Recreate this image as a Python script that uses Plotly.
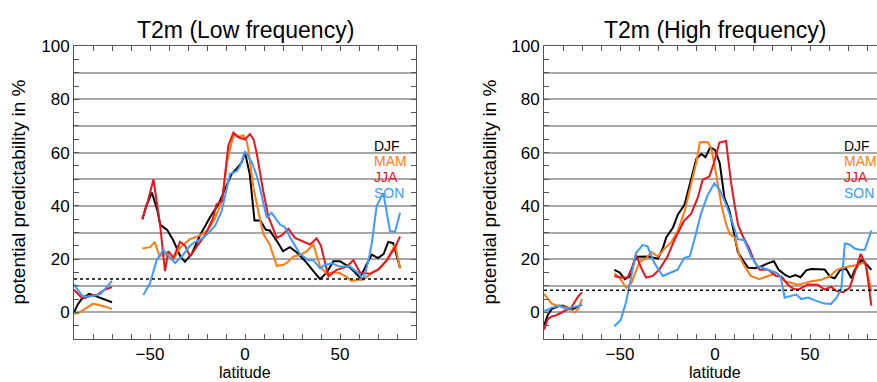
import plotly.graph_objects as go

# ---------------------------------------------------------------- data
seasons = ["DJF", "MAM", "JJA", "SON"]
season_colors = ["#000000", "#ff7a12", "#e8141e", "#3d9bff"]

panel_titles = ["T2m (Low frequency)", "T2m (High frequency)"]
noise_level = [12.5, 8.3]          # dotted significance level per panel

# Antarctic segment (shared latitudes)
ant_lat = [-90, -88, -86, -84, -82, -80, -78, -76, -74, -72, -70]

low_djf_ant = [0, 3, 5, 6, 7, 6.5, 6, 5.5, 5, 4.5, 3.8]
low_mam_ant = [-0.5, -0.3, 0.5, 1.5, 2.5, 3.3, 3, 2.7, 2.2, 1.8, 1.3]
low_jja_ant = [8.5, 7, 5.5, 5.5, 6, 6.5, 6.5, 7.5, 8.5, 9, 9.5]
low_son_ant = [10.5, 8.5, 6.5, 6, 6, 6.2, 6.5, 7, 8.5, 10, 11.8]

high_djf_ant = [-5, -1, 1.2, 2, 2.5, 2.5, 2, 1.3, 1.5, 2.3, 3]
high_mam_ant = [7, 5.2, 3.3, 2.8, 2.5, 2.3, 1.8, 1, 0, 1.2, 5]
high_jja_ant = [-6.5, -2.5, -1.5, -1.2, -0.5, 0.3, 1, 1.5, 4, 6, 7.5]
high_son_ant = [0.6, 1, 1.8, 2.2, 2.5, 1.8, 1.2, 1.8, 2, 2.3, 3]

# Low frequency, main segment
low_djf_lat = [-54, -52, -49, -46, -44.7, -41, -37.7, -34, -31.6, -28, -24, -18.4, -14, -9.6, -7,
               -4.4, -2, 0, 2.5, 5, 8, 11, 13, 17.5, 20, 23.6, 27, 30, 32.5, 36, 39.5, 43, 46.5,
               50, 53, 55.3, 58, 60.5, 64, 66.7, 70, 73, 75.4, 78, 81.6]
low_djf = [35, 40, 45, 38, 33, 31, 27, 21, 19, 22, 28.5, 35.7, 40.6, 48, 52,
           54, 56, 60, 52, 34.5, 34.5, 31, 30.8, 26, 23, 24.5, 22.7, 20.5, 18.6, 15.5, 12.5, 14.9, 19.2,
           19.2, 18, 16.8, 15, 13, 18, 21.7, 20.4, 22, 26.5, 26, 16.8]

low_mam_lat = [-54, -50, -47.5, -45, -42, -38, -34, -29, -25, -20, -16, -12, -9.6, -7, -5.5,
               -3, -1, 1, 2, 4.4, 7, 9.6, 13, 16.7, 20, 22, 25.5, 29, 32.5, 36, 39.5, 43, 46.5,
               50, 53, 56, 59.6, 62.3, 67, 71, 74.6, 79, 81.6]
low_mam = [24, 24.5, 26.5, 21, 22, 19.6, 24.5, 27.5, 28.5, 30.5, 35, 42, 56, 64, 67,
           66, 66.5, 64, 60, 47, 38, 29.5, 25.5, 17.5, 17.8, 18.6, 21, 21.5, 23, 25.5, 17.2, 14.5, 15.2,
           14.7, 13.5, 11.8, 12.3, 12.3, 15, 16.5, 19.6, 25.5, 16.5]

low_jja_lat = [-54, -51, -48.2, -46, -44.7, -42.1, -40.4, -37.7, -34.2, -31.5, -28.9, -25.4, -21,
               -16.7, -15, -12, -8.8, -6.1, -4, -2.6, 0, 2.6, 4.5, 6.1, 9.6, 12.3, 16.7, 19.5, 22.8,
               26.3, 30.7, 34.2, 37.7, 40, 42, 43.9, 48.2, 53.5, 57, 60.5, 65.8, 70, 74.6, 79, 81.6]
low_jja = [35, 42, 50, 40, 33, 15.5, 23, 20.5, 26.5, 25, 21, 24.7, 29,
           35.7, 40.6, 42, 62.6, 67.5, 66, 65.5, 65, 67, 65, 60, 45.5, 36, 28, 29, 31.4,
           28, 26.5, 25.5, 27.8, 25, 19, 13.5, 16, 17.2, 19.6, 15, 14.5, 16, 19.5, 24.5, 28.5]

low_son_lat = [-53.5, -50, -46.5, -43, -40.5, -36.8, -33.3, -29, -27.2, -22, -18.4, -15.8, -12.3,
               -7.9, -4.4, -2.6, 0, 3.5, 6.1, 7.9, 11.4, 14, 15.8, 18.4, 21, 23.7, 28.9, 33.3, 36,
               39.5, 42, 45.6, 50, 55.3, 59.6, 62.3, 65, 66.7, 69.3, 72.8, 76.3, 79, 81.6]
low_son = [6.5, 11, 19.6, 23.5, 21.5, 18.5, 21, 25, 26, 28, 30.5, 32.5, 38,
           52, 53, 55, 60.5, 56.4, 51.5, 46.6, 35.6, 37.4, 35.6, 33, 32, 28.2, 22, 19.6, 19.6,
           16.5, 17.8, 18.4, 17.2, 17.2, 14.7, 12.3, 19.6, 25.8, 40, 44.8, 30.5, 30.3, 37.4]

# High frequency, main segment
high_djf_lat = [-53, -50.2, -47.5, -45, -42.3, -40.5, -35, -30, -27.5, -25.6, -22.1, -19.5, -16,
                -12.5, -9.8, -7.2, -5, -2.5, 0, 2.5, 5, 7.7, 10.4, 12, 14.7, 17.4, 20.9, 24.4,
                27.7, 31, 33.5, 36.7, 39.3, 42.3, 45, 48, 50.7, 54.2, 57.7, 60.7, 63, 66, 69.1,
                71.8, 73.5, 77, 79.6, 82.3]
high_djf = [16, 15, 12.5, 13.5, 19.6, 20.9, 21, 20.2, 24, 28.2, 31.9, 36.8, 40.5,
            50.3, 57.7, 59.5, 58.3, 62, 61, 56, 43, 38, 28.2, 22.7, 19.6, 16.8, 16.6, 17.3,
            18.4, 19.2, 16, 14.2, 13.2, 14, 13.2, 15.8, 16.3, 16.1, 16.1, 13.3, 12.8, 16, 16.3,
            12.8, 15.8, 19.6, 18.2, 16]

high_mam_lat = [-53, -50.2, -46.7, -44, -41.4, -39.6, -36, -33.5, -30, -26.5, -23, -19.5, -16,
                -12.5, -9.8, -8, -5.5, -3.7, -1.9, 0.7, 3.3, 5.5, 7.7, 10.4, 13, 15.6, 18.9, 23.3,
                27.7, 32.5, 36.7, 40.2, 43.7, 47.2, 50.7, 56, 60.4, 64, 67.4, 71.8, 75.3, 79, 82.3]
high_mam = [14.7, 12.9, 9.2, 11, 16, 19, 20.5, 22.7, 20.9, 24, 26.4, 30.7, 38,
            47.9, 56.4, 63.8, 64, 63.8, 61.3, 51.5, 40.5, 34, 29.4, 28.2, 20.9, 17.2, 13.7, 12.5,
            13.5, 14.8, 11.7, 11, 10.4, 11, 11.7, 12.3, 13.5, 16, 16.8, 17.4, 17.8, 19, 8]

high_jja_lat = [-53, -49.6, -46, -43.5, -41.6, -39, -36.3, -32.8, -29.3, -25, -21.4, -16.2, -12.6,
                -9.1, -6.5, -3, -0.4, 2.3, 5.8, 8.4, 10.4, 12.1, 14.5, 18, 20.7, 23.3, 27.9, 32.1,
                34.9, 38.4, 41.5, 44.6, 48.8, 54, 57.7, 61.2, 63.9, 67.4, 70.9, 73.5, 76.7, 79.6, 82.3]
high_jja = [13.7, 13.1, 13.1, 17, 21.6, 17, 13.1, 13.7, 16.1, 21, 27.1, 34.5, 37,
            43, 49.8, 51, 56.5, 63.8, 64.4, 49, 40, 33, 28.8, 24, 19.2, 16.1, 16, 13.7,
            13.5, 10.4, 8.7, 8.8, 10.5, 10.4, 8.6, 9.6, 8, 7.6, 9.2, 14.7, 22, 17.2, 2.5]

high_son_lat = [-53, -49.6, -46.8, -44.2, -41.6, -38.1, -35.5, -32, -27.5, -23.2, -19.7, -16.2,
                -13.3, -10.9, -7.4, -3.9, -0.3, 2.5, 5.8, 8.6, 10.4, 12, 15.4, 19, 22.4, 27.7, 32.1,
                34.5, 36.7, 40.5, 42.8, 45.4, 49, 53, 57.5, 61, 64, 66.5, 68.3, 70.9, 73.5, 76,
                78.8, 82.3]
high_son = [-5.2, -2.8, 3.9, 13.7, 22.3, 25.3, 24.8, 18.6, 13.7, 15, 16, 20.5,
            21, 27.1, 37, 44, 48.5, 46, 40.6, 35, 31, 27.5, 27.1, 21, 17.4, 16.1, 14.9,
            13.5, 5.5, 6.3, 6.7, 5, 5.6, 4.4, 3.3, 3.2, 5.5, 9, 25.9, 25.5, 24, 23.5,
            23.5, 30.7]

panels = [
    {
        "ant": [low_djf_ant, low_mam_ant, low_jja_ant, low_son_ant],
        "main": [(low_djf_lat, low_djf), (low_mam_lat, low_mam),
                 (low_jja_lat, low_jja), (low_son_lat, low_son)],
    },
    {
        "ant": [high_djf_ant, high_mam_ant, high_jja_ant, high_son_ant],
        "main": [(high_djf_lat, high_djf), (high_mam_lat, high_mam),
                 (high_jja_lat, high_jja), (high_son_lat, high_son)],
    },
]

# ---------------------------------------------------------------- figure
W, H = 877, 382
FONT = "Liberation Sans, Arial, Helvetica, sans-serif"

fig = go.Figure()

for p, panel in enumerate(panels):
    xa = "x" if p == 0 else "x2"
    ya = "y" if p == 0 else "y2"
    for s in range(4):
        fig.add_trace(go.Scatter(x=ant_lat, y=panel["ant"][s], mode="lines",
                                 line=dict(color=season_colors[s], width=2),
                                 xaxis=xa, yaxis=ya, showlegend=False, hoverinfo="skip"))
        lat, val = panel["main"][s]
        fig.add_trace(go.Scatter(x=lat, y=val, mode="lines",
                                 line=dict(color=season_colors[s], width=2),
                                 xaxis=xa, yaxis=ya, showlegend=False, name=seasons[s]))

# plot-area geometry in pixels
y_top, y_bot = 38, 338
left_x0, left_x1 = 74, 416
right_x0 = 544
ydom = [(H - y_bot) / H, (H - y_top) / H]
px_per_unit = (y_bot - y_top) / 110.0

frame = "#555555"
grid = "#a8a8a8"
tick_vals_y = list(range(0, 101, 10))
tick_text_y = [str(v) if v % 20 == 0 else "" for v in tick_vals_y]

common_x = dict(
    showgrid=False, zeroline=False, showline=True, linecolor=frame, linewidth=1,
    ticks="inside", ticklen=5, tickcolor=frame, dtick=50, tick0=0,
    minor=dict(dtick=10, tick0=0, ticks="inside", ticklen=5, tickcolor=frame),
    tickfont=dict(family=FONT, size=17, color="#000"),
)
common_y = dict(
    range=[-10, 100], showgrid=True, gridcolor=grid, gridwidth=1.5, zeroline=False,
    showline=True, linecolor=frame, linewidth=1, ticks="inside", ticklen=5, tickcolor=frame,
    tickmode="array", tickvals=tick_vals_y, ticktext=tick_text_y,
    minor=dict(dtick=5, tick0=0, ticks="inside", ticklen=5, tickcolor=frame, showgrid=False),
    tickfont=dict(family=FONT, size=17, color="#000"),
)

right_span = (W - right_x0) / (left_x1 - left_x0) * 180 - 90

fig.update_layout(
    width=W, height=H,
    margin=dict(l=0, r=0, t=0, b=0),
    paper_bgcolor="white", plot_bgcolor="white",
    xaxis=dict(domain=[left_x0 / W, left_x1 / W], range=[-90, 90], mirror="ticks",
               anchor="y", **common_x),
    yaxis=dict(domain=ydom, anchor="x", mirror="ticks", **common_y),
    xaxis2=dict(domain=[right_x0 / W, 1.0], range=[-90, right_span], mirror="ticks",
                anchor="y2", **common_x),
    yaxis2=dict(domain=ydom, anchor="x2", mirror=False, **common_y),
)

# dotted significance lines
for p, lvl in enumerate(noise_level):
    xr = "x domain" if p == 0 else "x2 domain"
    yr = "y" if p == 0 else "y2"
    fig.add_shape(type="line", xref=xr, yref=yr, x0=0, x1=1, y0=lvl, y1=lvl,
                  line=dict(color="#000000", width=1.5, dash="dot"), layer="above")

# season key: stacked labels, 16 px apart
key_top = 62.6
key_step = 16 / px_per_unit

annotations = []
for p in range(2):
    xr = "x" if p == 0 else "x2"
    yr = "y" if p == 0 else "y2"
    # panel title
    annotations.append(dict(text=panel_titles[p], xref=xr, yref="paper", x=0, y=(H - 21) / H,
                            xanchor="center", yanchor="middle", showarrow=False,
                            font=dict(family=FONT, size=23, color="#000")))
    # x axis title
    annotations.append(dict(text="latitude", xref=xr, yref="paper", x=0, y=(H - 372.5) / H,
                            xanchor="center", yanchor="middle", showarrow=False,
                            font=dict(family=FONT, size=16, color="#000")))
    # y axis title
    ytx = 19 if p == 0 else 490
    annotations.append(dict(text="potential predictability in %", xref="paper", yref="paper",
                            x=ytx / W, y=sum(ydom) / 2, xanchor="center", yanchor="middle",
                            textangle=-90, showarrow=False,
                            font=dict(family=FONT, size=19, color="#000")))
    # season labels
    for s, lab in enumerate(seasons):
        annotations.append(dict(text=lab, xref=xr, yref=yr, x=67, y=key_top - key_step * s,
                                xanchor="left", yanchor="middle", showarrow=False,
                                font=dict(family=FONT, size=14, color=season_colors[s])))

fig.update_layout(annotations=annotations)

fig.write_html("out.html")
